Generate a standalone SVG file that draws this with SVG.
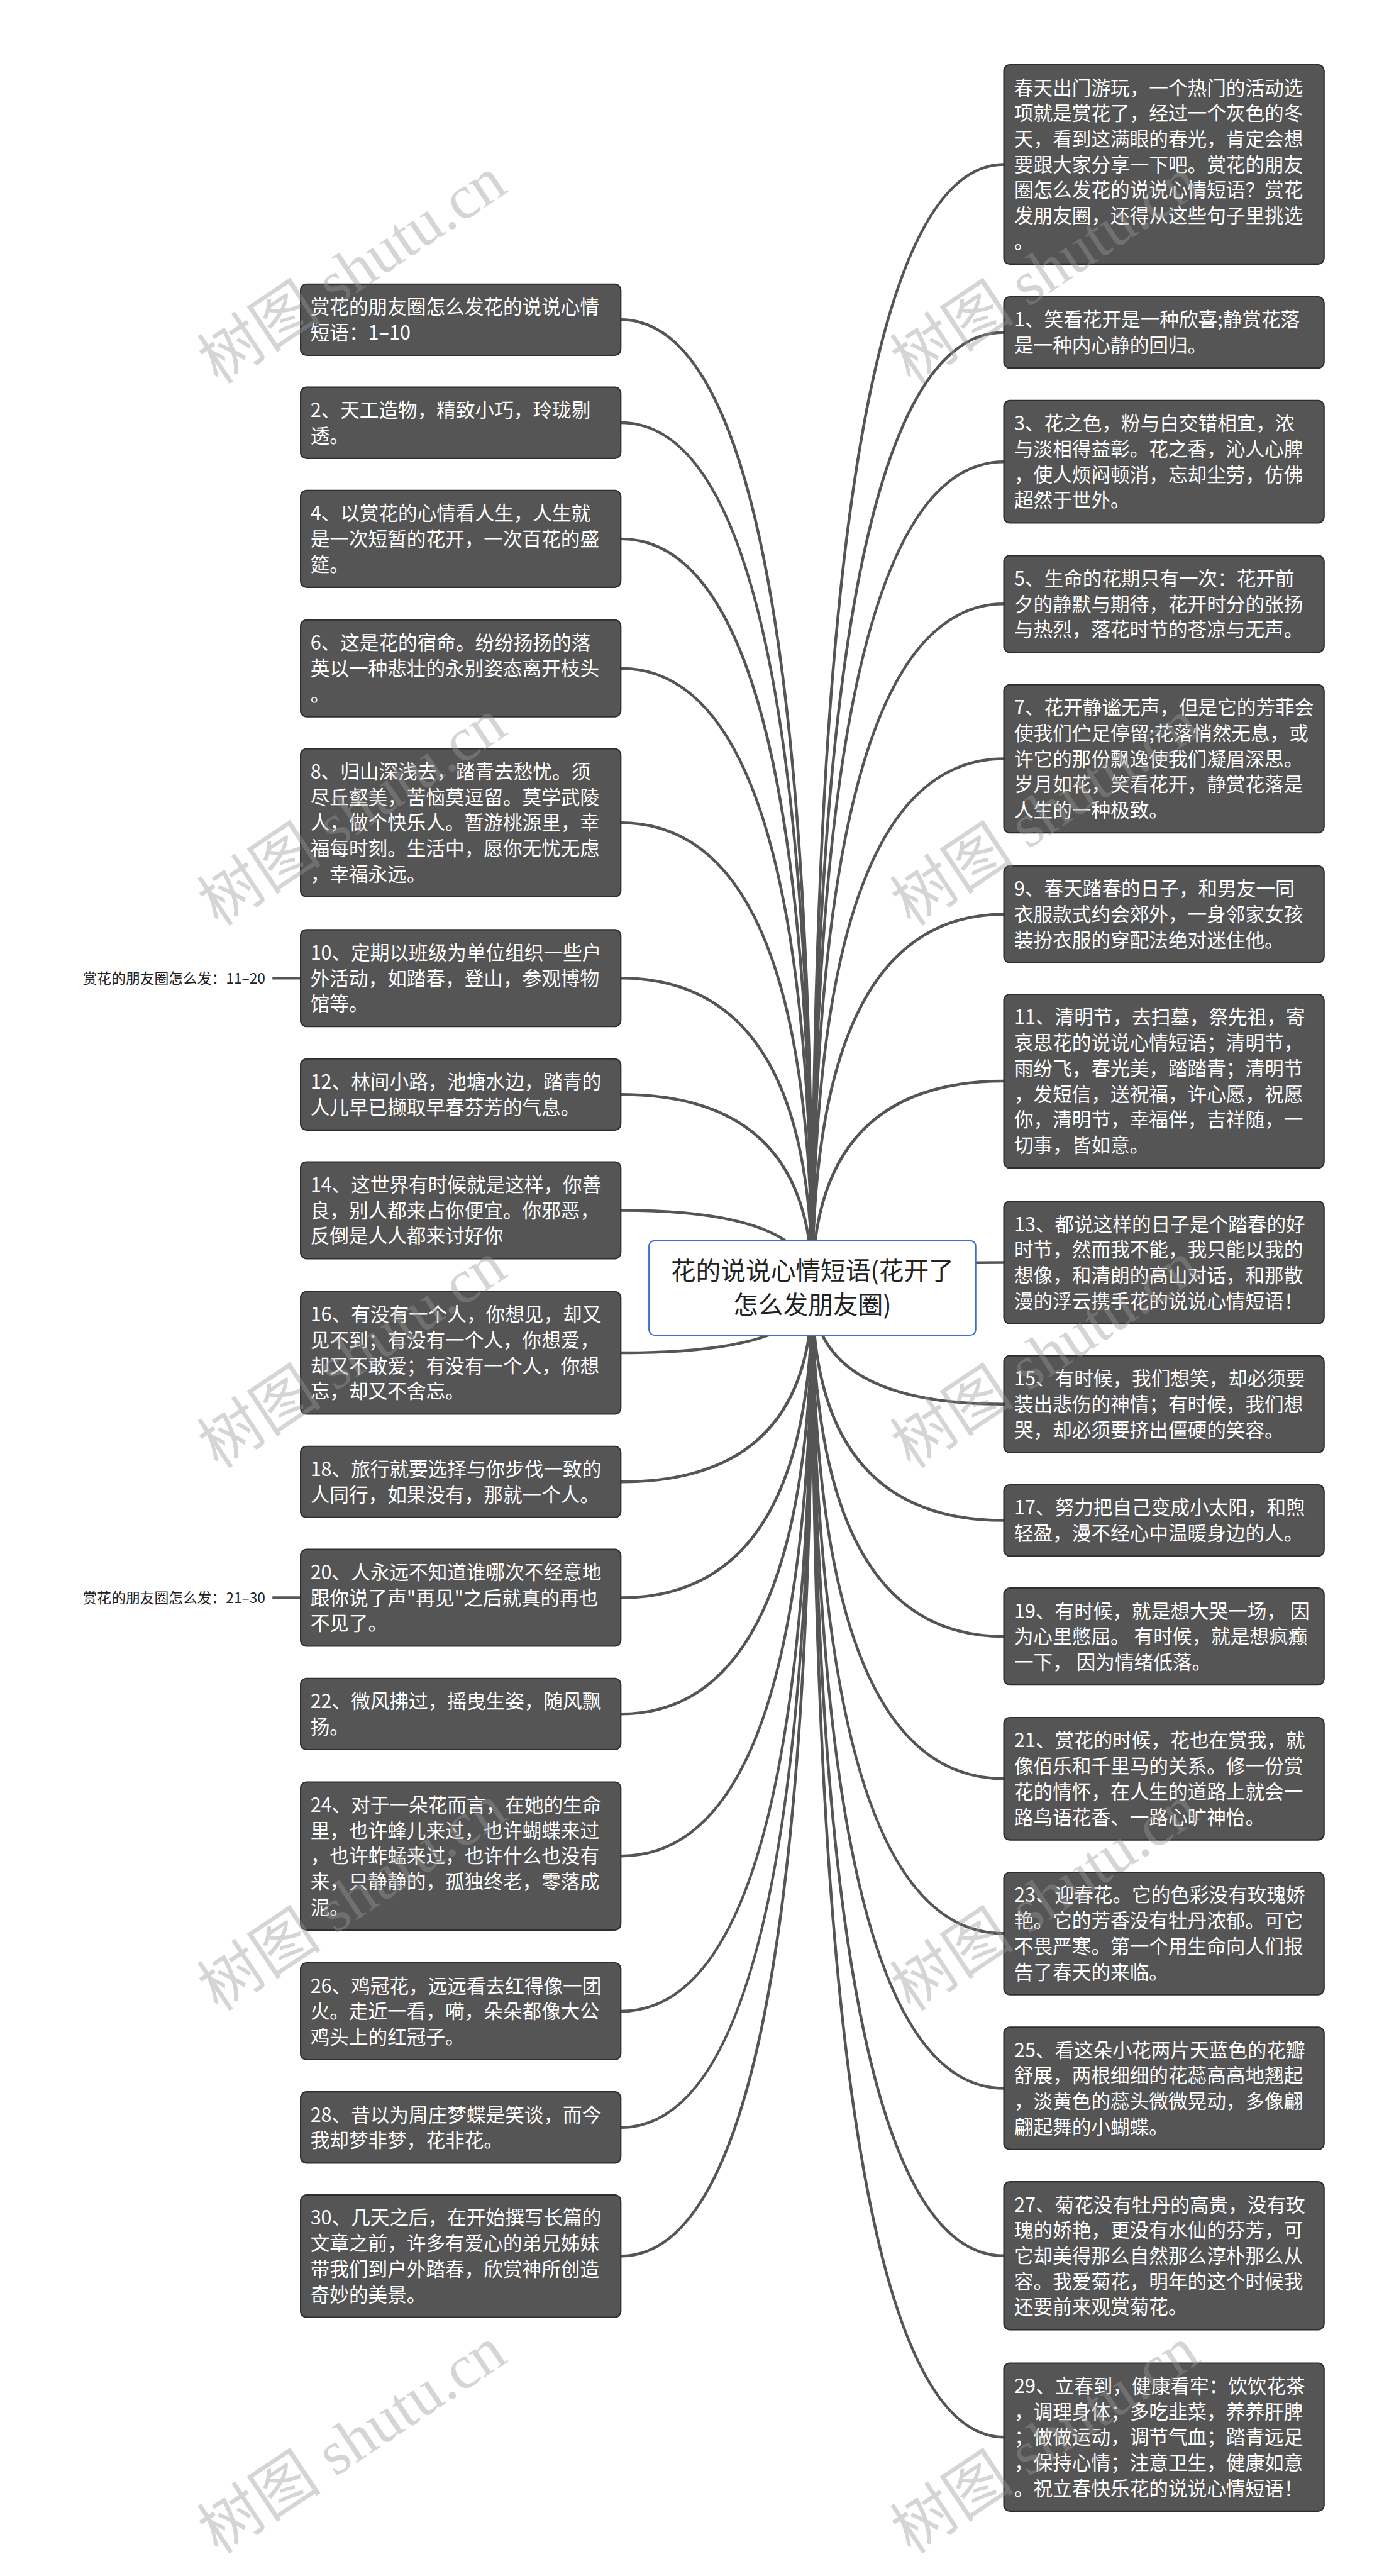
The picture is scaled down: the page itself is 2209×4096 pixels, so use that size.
<svg xmlns="http://www.w3.org/2000/svg" width="2209" height="4096" viewBox="0 0 2209 4096">
<style>
.box{fill:#555555;stroke:#2e2e2e;stroke-width:2.5}
.t{font-family:"Noto Sans CJK SC","Noto Sans",sans-serif;font-size:35.5px;fill:#ffffff}
.link{fill:none;stroke:#555555;stroke-width:5.2}
.lbl{font-family:"Noto Sans CJK SC","Noto Sans",sans-serif;font-size:26.4px;fill:#222222;text-anchor:end}
.rootbox{fill:#ffffff;stroke:#3d6fd1;stroke-width:2.5}
.roott{font-family:"Noto Sans CJK SC","Noto Sans",sans-serif;font-size:46px;fill:#222222;text-anchor:middle}
.wm{font-family:"Liberation Serif","Noto Sans CJK SC",serif;font-size:115px;fill:#999999;opacity:0.4}
</style>
<rect width="2209" height="4096" fill="#ffffff"/>
<g transform="scale(0.863)">
<g id="connectors">
<path class="link" d="M1497 2373 Q1497 589 1144 589"/>
<path class="link" d="M1497 2373 Q1497 778.8 1144 778.8"/>
<path class="link" d="M1497 2373 Q1497 992.9 1144 992.9"/>
<path class="link" d="M1497 2373 Q1497 1231.4 1144 1231.4"/>
<path class="link" d="M1497 2373 Q1497 1515.9 1144 1515.9"/>
<path class="link" d="M1497 2373 Q1497 1802.2 1144 1802.2"/>
<path class="link" d="M1497 2373 Q1497 2016.6 1144 2016.6"/>
<path class="link" d="M1497 2373 Q1497 2230 1144 2230"/>
<path class="link" d="M1497 2373 Q1497 2492.6 1144 2492.6"/>
<path class="link" d="M1497 2373 Q1497 2730.4 1144 2730.4"/>
<path class="link" d="M1497 2373 Q1497 2943.8 1144 2943.8"/>
<path class="link" d="M1497 2373 Q1497 3158 1144 3158"/>
<path class="link" d="M1497 2373 Q1497 3419.7 1144 3419.7"/>
<path class="link" d="M1497 2373 Q1497 3705.7 1144 3705.7"/>
<path class="link" d="M1497 2373 Q1497 3919.8 1144 3919.8"/>
<path class="link" d="M1497 2373 Q1497 4156.8 1144 4156.8"/>
<path class="link" d="M1497 2373 Q1497 303 1850 303"/>
<path class="link" d="M1497 2373 Q1497 612.5 1850 612.5"/>
<path class="link" d="M1497 2373 Q1497 850.7 1850 850.7"/>
<path class="link" d="M1497 2373 Q1497 1112.8 1850 1112.8"/>
<path class="link" d="M1497 2373 Q1497 1398 1850 1398"/>
<path class="link" d="M1497 2373 Q1497 1684.5 1850 1684.5"/>
<path class="link" d="M1497 2373 Q1497 1992 1850 1992"/>
<path class="link" d="M1497 2373 Q1497 2326.1 1850 2326.1"/>
<path class="link" d="M1497 2373 Q1497 2587.1 1850 2587.1"/>
<path class="link" d="M1497 2373 Q1497 2801.4 1850 2801.4"/>
<path class="link" d="M1497 2373 Q1497 3015.2 1850 3015.2"/>
<path class="link" d="M1497 2373 Q1497 3277.3 1850 3277.3"/>
<path class="link" d="M1497 2373 Q1497 3562.4 1850 3562.4"/>
<path class="link" d="M1497 2373 Q1497 3847.7 1850 3847.7"/>
<path class="link" d="M1497 2373 Q1497 4156.2 1850 4156.2"/>
<path class="link" d="M1497 2373 Q1497 4490.4 1850 4490.4"/>
<path class="link" d="M502 1802.2 H554"/>
<path class="link" d="M502 2943.8 H554"/>
</g>

<g id="root">
<rect class="rootbox" x="1196" y="2286" width="602" height="174" rx="10"/>
<text class="roott" x="1497" y="2358"><tspan x="1497">花的说说心情短语(花开了</tspan><tspan x="1497" dy="62.5">怎么发朋友圈)</tspan></text>
</g>

<g id="label-11-20"><text class="lbl" x="489" y="1812">赏花的朋友圈怎么发：11–20</text></g>
<g id="label-21-30"><text class="lbl" x="489" y="2954">赏花的朋友圈怎么发：21–30</text></g>

<g id="L1"><rect class="box" x="554" y="523.5" width="590" height="131.2" rx="11"/>
<text class="t" x="572" y="578.5"><tspan x="572">赏花的朋友圈怎么发花的说说心情</tspan><tspan x="572" dy="47.2">短语：1–10</tspan></text></g>
<g id="L2"><rect class="box" x="554" y="713.4" width="590" height="131.2" rx="11"/>
<text class="t" x="572" y="768.4"><tspan x="572">2、天工造物，精致小巧，玲珑剔</tspan><tspan x="572" dy="47.2">透。</tspan></text></g>
<g id="L3"><rect class="box" x="554" y="903.7" width="590" height="178.4" rx="11"/>
<text class="t" x="572" y="958.7"><tspan x="572">4、以赏花的心情看人生，人生就</tspan><tspan x="572" dy="47.2">是一次短暂的花开，一次百花的盛</tspan><tspan x="572" dy="47.2">筵。</tspan></text></g>
<g id="L4"><rect class="box" x="554" y="1142.2" width="590" height="178.4" rx="11"/>
<text class="t" x="572" y="1197.2"><tspan x="572">6、这是花的宿命。纷纷扬扬的落</tspan><tspan x="572" dy="47.2">英以一种悲壮的永别姿态离开枝头</tspan><tspan x="572" dy="47.2">。</tspan></text></g>
<g id="L5"><rect class="box" x="554" y="1379.5" width="590" height="272.8" rx="11"/>
<text class="t" x="572" y="1434.5"><tspan x="572">8、归山深浅去，踏青去愁忧。须</tspan><tspan x="572" dy="47.2">尽丘壑美，苦恼莫逗留。莫学武陵</tspan><tspan x="572" dy="47.2">人，做个快乐人。暂游桃源里，幸</tspan><tspan x="572" dy="47.2">福每时刻。生活中，愿你无忧无虑</tspan><tspan x="572" dy="47.2">，幸福永远。</tspan></text></g>
<g id="L6"><rect class="box" x="554" y="1713" width="590" height="178.4" rx="11"/>
<text class="t" x="572" y="1768"><tspan x="572">10、定期以班级为单位组织一些户</tspan><tspan x="572" dy="47.2">外活动，如踏春，登山，参观博物</tspan><tspan x="572" dy="47.2">馆等。</tspan></text></g>
<g id="L7"><rect class="box" x="554" y="1951" width="590" height="131.2" rx="11"/>
<text class="t" x="572" y="2006"><tspan x="572">12、林间小路，池塘水边，踏青的</tspan><tspan x="572" dy="47.2">人儿早已撷取早春芬芳的气息。</tspan></text></g>
<g id="L8"><rect class="box" x="554" y="2140.8" width="590" height="178.4" rx="11"/>
<text class="t" x="572" y="2195.8"><tspan x="572">14、这世界有时候就是这样，你善</tspan><tspan x="572" dy="47.2">良，别人都来占你便宜。你邪恶，</tspan><tspan x="572" dy="47.2">反倒是人人都来讨好你</tspan></text></g>
<g id="L9"><rect class="box" x="554" y="2379.8" width="590" height="225.6" rx="11"/>
<text class="t" x="572" y="2434.8"><tspan x="572">16、有没有一个人，你想见，却又</tspan><tspan x="572" dy="47.2">见不到；有没有一个人，你想爱，</tspan><tspan x="572" dy="47.2">却又不敢爱；有没有一个人，你想</tspan><tspan x="572" dy="47.2">忘，却又不舍忘。</tspan></text></g>
<g id="L10"><rect class="box" x="554" y="2664.8" width="590" height="131.2" rx="11"/>
<text class="t" x="572" y="2719.8"><tspan x="572">18、旅行就要选择与你步伐一致的</tspan><tspan x="572" dy="47.2">人同行，如果没有，那就一个人。</tspan></text></g>
<g id="L11"><rect class="box" x="554" y="2854.6" width="590" height="178.4" rx="11"/>
<text class="t" x="572" y="2909.6"><tspan x="572">20、人永远不知道谁哪次不经意地</tspan><tspan x="572" dy="47.2">跟你说了声"再见"之后就真的再也</tspan><tspan x="572" dy="47.2">不见了。</tspan></text></g>
<g id="L12"><rect class="box" x="554" y="3092.4" width="590" height="131.2" rx="11"/>
<text class="t" x="572" y="3147.4"><tspan x="572">22、微风拂过，摇曳生姿，随风飘</tspan><tspan x="572" dy="47.2">扬。</tspan></text></g>
<g id="L13"><rect class="box" x="554" y="3283.3" width="590" height="272.8" rx="11"/>
<text class="t" x="572" y="3338.3"><tspan x="572">24、对于一朵花而言，在她的生命</tspan><tspan x="572" dy="47.2">里，也许蜂儿来过，也许蝴蝶来过</tspan><tspan x="572" dy="47.2">，也许蚱蜢来过，也许什么也没有</tspan><tspan x="572" dy="47.2">来，只静静的，孤独终老，零落成</tspan><tspan x="572" dy="47.2">泥。</tspan></text></g>
<g id="L14"><rect class="box" x="554" y="3616.5" width="590" height="178.4" rx="11"/>
<text class="t" x="572" y="3671.5"><tspan x="572">26、鸡冠花，远远看去红得像一团</tspan><tspan x="572" dy="47.2">火。走近一看，嗬，朵朵都像大公</tspan><tspan x="572" dy="47.2">鸡头上的红冠子。</tspan></text></g>
<g id="L15"><rect class="box" x="554" y="3854.2" width="590" height="131.2" rx="11"/>
<text class="t" x="572" y="3909.2"><tspan x="572">28、昔以为周庄梦蝶是笑谈，而今</tspan><tspan x="572" dy="47.2">我却梦非梦，花非花。</tspan></text></g>
<g id="L16"><rect class="box" x="554" y="4044" width="590" height="225.6" rx="11"/>
<text class="t" x="572" y="4099"><tspan x="572">30、几天之后，在开始撰写长篇的</tspan><tspan x="572" dy="47.2">文章之前，许多有爱心的弟兄姊妹</tspan><tspan x="572" dy="47.2">带我们到户外踏春，欣赏神所创造</tspan><tspan x="572" dy="47.2">奇妙的美景。</tspan></text></g>

<g id="R1"><rect class="box" x="1850" y="119.4" width="590" height="367.2" rx="11"/>
<text class="t" x="1869" y="174.4"><tspan x="1869">春天出门游玩，一个热门的活动选</tspan><tspan x="1869" dy="47.2">项就是赏花了，经过一个灰色的冬</tspan><tspan x="1869" dy="47.2">天，看到这满眼的春光，肯定会想</tspan><tspan x="1869" dy="47.2">要跟大家分享一下吧。赏花的朋友</tspan><tspan x="1869" dy="47.2">圈怎么发花的说说心情短语？赏花</tspan><tspan x="1869" dy="47.2">发朋友圈，还得从这些句子里挑选</tspan><tspan x="1869" dy="47.2">。</tspan></text></g>
<g id="R2"><rect class="box" x="1850" y="546.9" width="590" height="131.2" rx="11"/>
<text class="t" x="1869" y="601.9"><tspan x="1869">1、笑看花开是一种欣喜;静赏花落</tspan><tspan x="1869" dy="47.2">是一种内心静的回归。</tspan></text></g>
<g id="R3"><rect class="box" x="1850" y="737.9" width="590" height="225.6" rx="11"/>
<text class="t" x="1869" y="792.9"><tspan x="1869">3、花之色，粉与白交错相宜，浓</tspan><tspan x="1869" dy="47.2">与淡相得益彰。花之香，沁人心脾</tspan><tspan x="1869" dy="47.2">，使人烦闷顿消，忘却尘劳，仿佛</tspan><tspan x="1869" dy="47.2">超然于世外。</tspan></text></g>
<g id="R4"><rect class="box" x="1850" y="1023.6" width="590" height="178.4" rx="11"/>
<text class="t" x="1869" y="1078.6"><tspan x="1869">5、生命的花期只有一次：花开前</tspan><tspan x="1869" dy="47.2">夕的静默与期待，花开时分的张扬</tspan><tspan x="1869" dy="47.2">与热烈，落花时节的苍凉与无声。</tspan></text></g>
<g id="R5"><rect class="box" x="1850" y="1261.6" width="590" height="272.8" rx="11"/>
<text class="t" x="1869" y="1316.6"><tspan x="1869">7、花开静谧无声，但是它的芳菲会</tspan><tspan x="1869" dy="47.2">使我们伫足停留;花落悄然无息，或</tspan><tspan x="1869" dy="47.2">许它的那份飘逸使我们凝眉深思。</tspan><tspan x="1869" dy="47.2">岁月如花，笑看花开，静赏花落是</tspan><tspan x="1869" dy="47.2">人生的一种极致。</tspan></text></g>
<g id="R6"><rect class="box" x="1850" y="1595.3" width="590" height="178.4" rx="11"/>
<text class="t" x="1869" y="1650.3"><tspan x="1869">9、春天踏春的日子，和男友一同</tspan><tspan x="1869" dy="47.2">衣服款式约会郊外，一身邻家女孩</tspan><tspan x="1869" dy="47.2">装扮衣服的穿配法绝对迷住他。</tspan></text></g>
<g id="R7"><rect class="box" x="1850" y="1832" width="590" height="320" rx="11"/>
<text class="t" x="1869" y="1887"><tspan x="1869">11、清明节，去扫墓，祭先祖，寄</tspan><tspan x="1869" dy="47.2">哀思花的说说心情短语；清明节，</tspan><tspan x="1869" dy="47.2">雨纷飞，春光美，踏踏青；清明节</tspan><tspan x="1869" dy="47.2">，发短信，送祝福，许心愿，祝愿</tspan><tspan x="1869" dy="47.2">你，清明节，幸福伴，吉祥随，一</tspan><tspan x="1869" dy="47.2">切事，皆如意。</tspan></text></g>
<g id="R8"><rect class="box" x="1850" y="2213.3" width="590" height="225.6" rx="11"/>
<text class="t" x="1869" y="2268.3"><tspan x="1869">13、都说这样的日子是个踏春的好</tspan><tspan x="1869" dy="47.2">时节，然而我不能，我只能以我的</tspan><tspan x="1869" dy="47.2">想像，和清朗的高山对话，和那散</tspan><tspan x="1869" dy="47.2">漫的浮云携手花的说说心情短语！</tspan></text></g>
<g id="R9"><rect class="box" x="1850" y="2497.9" width="590" height="178.4" rx="11"/>
<text class="t" x="1869" y="2552.9"><tspan x="1869">15、有时候，我们想笑，却必须要</tspan><tspan x="1869" dy="47.2">装出悲伤的神情；有时候，我们想</tspan><tspan x="1869" dy="47.2">哭，却必须要挤出僵硬的笑容。</tspan></text></g>
<g id="R10"><rect class="box" x="1850" y="2735.8" width="590" height="131.2" rx="11"/>
<text class="t" x="1869" y="2790.8"><tspan x="1869">17、努力把自己变成小太阳，和煦</tspan><tspan x="1869" dy="47.2">轻盈，漫不经心中温暖身边的人。</tspan></text></g>
<g id="R11"><rect class="box" x="1850" y="2926" width="590" height="178.4" rx="11"/>
<text class="t" x="1869" y="2981"><tspan x="1869">19、有时候，就是想大哭一场， 因</tspan><tspan x="1869" dy="47.2">为心里憋屈。 有时候，就是想疯癫</tspan><tspan x="1869" dy="47.2">一下， 因为情绪低落。</tspan></text></g>
<g id="R12"><rect class="box" x="1850" y="3164.5" width="590" height="225.6" rx="11"/>
<text class="t" x="1869" y="3219.5"><tspan x="1869">21、赏花的时候，花也在赏我，就</tspan><tspan x="1869" dy="47.2">像佰乐和千里马的关系。修一份赏</tspan><tspan x="1869" dy="47.2">花的情怀，在人生的道路上就会一</tspan><tspan x="1869" dy="47.2">路鸟语花香、一路心旷神怡。</tspan></text></g>
<g id="R13"><rect class="box" x="1850" y="3449.6" width="590" height="225.6" rx="11"/>
<text class="t" x="1869" y="3504.6"><tspan x="1869">23、迎春花。它的色彩没有玫瑰娇</tspan><tspan x="1869" dy="47.2">艳。它的芳香没有牡丹浓郁。可它</tspan><tspan x="1869" dy="47.2">不畏严寒。第一个用生命向人们报</tspan><tspan x="1869" dy="47.2">告了春天的来临。</tspan></text></g>
<g id="R14"><rect class="box" x="1850" y="3734.9" width="590" height="225.6" rx="11"/>
<text class="t" x="1869" y="3789.9"><tspan x="1869">25、看这朵小花两片天蓝色的花瓣</tspan><tspan x="1869" dy="47.2">舒展，两根细细的花蕊高高地翘起</tspan><tspan x="1869" dy="47.2">，淡黄色的蕊头微微晃动，多像翩</tspan><tspan x="1869" dy="47.2">翩起舞的小蝴蝶。</tspan></text></g>
<g id="R15"><rect class="box" x="1850" y="4019.8" width="590" height="272.8" rx="11"/>
<text class="t" x="1869" y="4074.8"><tspan x="1869">27、菊花没有牡丹的高贵，没有玫</tspan><tspan x="1869" dy="47.2">瑰的娇艳，更没有水仙的芬芳，可</tspan><tspan x="1869" dy="47.2">它却美得那么自然那么淳朴那么从</tspan><tspan x="1869" dy="47.2">容。我爱菊花，明年的这个时候我</tspan><tspan x="1869" dy="47.2">还要前来观赏菊花。</tspan></text></g>
<g id="R16"><rect class="box" x="1850" y="4354" width="590" height="272.8" rx="11"/>
<text class="t" x="1869" y="4409"><tspan x="1869">29、立春到，健康看牢：饮饮花茶</tspan><tspan x="1869" dy="47.2">，调理身体；多吃韭菜，养养肝脾</tspan><tspan x="1869" dy="47.2">；做做运动，调节气血；踏青远足</tspan><tspan x="1869" dy="47.2">，保持心情；注意卫生，健康如意</tspan><tspan x="1869" dy="47.2">。祝立春快乐花的说说心情短语！</tspan></text></g>

<g id="watermark">
<text class="wm" transform="translate(402 710) rotate(-33.7)">树图 shutu.cn</text>
<text class="wm" transform="translate(1679 710) rotate(-33.7)">树图 shutu.cn</text>
<text class="wm" transform="translate(402 1709) rotate(-33.7)">树图 shutu.cn</text>
<text class="wm" transform="translate(1679 1709) rotate(-33.7)">树图 shutu.cn</text>
<text class="wm" transform="translate(402 2708) rotate(-33.7)">树图 shutu.cn</text>
<text class="wm" transform="translate(1679 2708) rotate(-33.7)">树图 shutu.cn</text>
<text class="wm" transform="translate(402 3708) rotate(-33.7)">树图 shutu.cn</text>
<text class="wm" transform="translate(1679 3708) rotate(-33.7)">树图 shutu.cn</text>
<text class="wm" transform="translate(402 4708) rotate(-33.7)">树图 shutu.cn</text>
<text class="wm" transform="translate(1679 4708) rotate(-33.7)">树图 shutu.cn</text>
</g>
</g>
</svg>
